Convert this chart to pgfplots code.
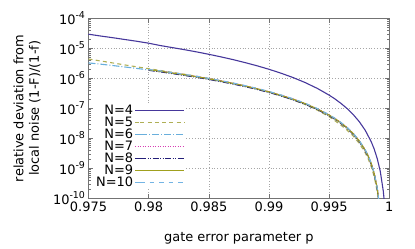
\documentclass[border=0pt]{standalone}
\usepackage{fontspec}
\setmainfont{DejaVu Sans}
\usepackage{pgfplots}
\usepackage{pgfplotstable}
\pgfplotsset{compat=1.18}
\definecolor{cA}{RGB}{70,55,155}
\definecolor{cB}{RGB}{175,175,85}
\definecolor{cC}{RGB}{105,175,220}
\definecolor{cD}{RGB}{215,60,180}
\definecolor{cE}{RGB}{35,30,120}
\definecolor{cF}{RGB}{160,160,30}
\definecolor{cG}{RGB}{115,180,228}
\newcommand\fs{\fontsize{13}{15.6}\selectfont}
\newcommand\sups[1]{\raisebox{5.5bp}{\fontsize{9.5}{10}\selectfont #1}}

\pgfplotstableread{
p y
0.975 2.95e-5
0.976 2.57e-5
0.977 2.26e-5
0.978 1.97e-5
0.979 1.72e-5
0.980 1.48e-5
0.981 1.23e-5
0.982 1.05e-5
0.983 8.97e-6
0.984 7.57e-6
0.985 6.31e-6
0.986 5.19e-6
0.987 4.21e-6
0.988 3.35e-6
0.989 2.62e-6
0.990 2.00e-6
0.991 1.48e-6
0.992 1.06e-6
0.993 7.23e-7
0.994 4.65e-7
0.995 2.75e-7
0.9955 2.03e-7
0.996 1.44e-7
0.9965 9.75e-8
0.997 6.19e-8
0.9975 3.61e-8
0.998 1.85e-8
0.9985 7.66e-9
0.99875 4.32e-9
0.999 2.09e-9
0.99925 7.91e-10
0.9995 1.75e-10
0.9996 6.81e-11
}\nfour

\pgfplotstableread{
p n5 n6 n7 n8 n9 n10
0.975 4.40e-6 3.26e-6 nan nan nan nan
0.976 3.79e-6 2.96e-6 nan nan nan nan
0.977 3.26e-6 2.67e-6 nan nan nan nan
0.978 2.80e-6 2.39e-6 nan nan nan nan
0.979 2.42e-6 2.14e-6 nan nan nan nan
0.980 2.09e-6 1.90e-6 1.88e-6 1.85e-6 1.92e-6 1.95e-6
0.981 1.82e-6 1.68e-6 1.73e-6 1.63e-6 1.71e-6 1.76e-6
0.982 1.57e-6 1.47e-6 1.51e-6 1.43e-6 1.50e-6 1.54e-6
0.983 1.36e-6 1.28e-6 1.32e-6 1.24e-6 1.31e-6 1.34e-6
0.984 1.17e-6 1.11e-6 1.14e-6 1.08e-6 1.13e-6 1.17e-6
0.985 9.92e-7 9.45e-7 9.73e-7 9.17e-7 9.64e-7 9.92e-7
0.986 8.30e-7 7.97e-7 8.21e-7 7.73e-7 8.13e-7 8.37e-7
0.987 6.88e-7 6.65e-7 6.85e-7 6.45e-7 6.78e-7 6.98e-7
0.988 5.60e-7 5.45e-7 5.61e-7 5.29e-7 5.56e-7 5.72e-7
0.989 4.48e-7 4.40e-7 4.53e-7 4.27e-7 4.49e-7 4.62e-7
0.990 3.47e-7 3.47e-7 3.57e-7 3.37e-7 3.54e-7 3.64e-7
0.991 2.60e-7 2.66e-7 2.74e-7 2.58e-7 2.71e-7 2.79e-7
0.992 1.90e-7 1.98e-7 2.04e-7 1.92e-7 2.02e-7 2.08e-7
0.993 1.34e-7 1.41e-7 1.45e-7 1.37e-7 1.44e-7 1.48e-7
0.994 8.75e-8 9.42e-8 9.70e-8 9.14e-8 9.61e-8 9.89e-8
0.995 5.24e-8 5.82e-8 5.99e-8 5.65e-8 5.94e-8 6.11e-8
0.9955 3.80e-8 4.39e-8 4.52e-8 4.26e-8 4.48e-8 4.61e-8
0.996 2.70e-8 3.18e-8 3.28e-8 3.08e-8 3.24e-8 3.34e-8
0.9965 1.86e-8 2.19e-8 2.26e-8 2.12e-8 2.23e-8 2.30e-8
0.997 1.19e-8 1.40e-8 1.44e-8 1.36e-8 1.43e-8 1.47e-8
0.9975 6.80e-9 8.09e-9 8.33e-9 7.85e-9 8.25e-9 8.49e-9
0.998 3.30e-9 3.95e-9 4.07e-9 3.83e-9 4.03e-9 4.15e-9
0.99825 2.05e-9 2.49e-9 2.56e-9 2.42e-9 2.54e-9 2.61e-9
0.9985 1.13e-9 1.40e-9 1.44e-9 1.36e-9 1.43e-9 1.47e-9
0.99875 5.20e-10 6.50e-10 6.70e-10 6.31e-10 6.63e-10 6.83e-10
0.999 1.65e-10 2.08e-10 2.14e-10 2.02e-10 2.12e-10 2.18e-10
0.99915 5.50e-11 6.90e-11 7.10e-11 6.70e-11 7.00e-11 7.20e-11
}\cluster

\begin{document}
\begin{tikzpicture}
\useasboundingbox (-88.5bp,-50.7bp) rectangle (326.5bp,198.3bp);
\begin{axis}[
  scale only axis,
  width=300.8bp, height=180bp,
  xmin=0.975, xmax=1,
  ymode=log, ymin=1e-10, ymax=1e-4,
  xtick={0.975,0.98,0.985,0.99,0.995,1},
  xticklabels={0.975,0.98,0.985,0.99,0.995,1},
  ytick={1e-10,1e-9,1e-8,1e-7,1e-6,1e-5,1e-4},
  yticklabels={10\sups{-10},10\sups{-9},10\sups{-8},10\sups{-7},10\sups{-6},10\sups{-5},10\sups{-4}},
  tick align=inside,
  major tick length=4.5bp,
  minor tick length=2.5bp,
  axis line style={black!55, line width=0.7bp},
  every tick/.style={black!55, line width=0.6bp},
  grid=major,
  major grid style={black!35, line width=0.6bp, dash pattern=on 0.8bp off 2bp},
  tick label style={font=\fs, black},
  label style={font=\fs},
  xlabel={gate error parameter p},
  xlabel style={at={(axis description cs:0.5,-0.222)}, anchor=center},
  ylabel={relative deviation from\\local noise (1-F)/(1-f)},
  ylabel style={align=center, at={(axis description cs:-0.2045,0.5)}, anchor=center},
  legend style={at={(axis description cs:0.324,0.528)}, anchor=north east,
     fill=white, draw=none, font=\fs, inner sep=1bp,
     nodes={inner sep=1.5bp, text height=9.0bp, text depth=0bp},
     row sep=0pt},
  legend cell align=right,
  legend plot pos=right,
  legend image code/.code={\path (0bp,0bp) -- (5bp,0bp); \draw[#1] (5bp,0bp) -- (49bp,0bp);},
  every axis plot/.append style={line width=1.1bp},
]
\addplot[cA] table[x=p, y=y] {\nfour};
\addlegendentry{N=4}
\addplot[cB, dash pattern=on 4bp off 3.3bp] table[x=p, y=n5] {\cluster};
\addlegendentry{N=5}
\addplot[cC, dash pattern=on 7bp off 2bp on 1bp off 2bp] table[x=p, y=n6] {\cluster};
\addlegendentry{N=6}
\addplot[cD, dash pattern=on 1.2bp off 1.3bp] table[x=p, y=n7] {\cluster};
\addlegendentry{N=7}
\addplot[cE, dash pattern=on 6bp off 1.5bp on 1bp off 1.5bp on 1bp off 1.5bp] table[x=p, y=n8] {\cluster};
\addlegendentry{N=8}
\addplot[cF] table[x=p, y=n9] {\cluster};
\addlegendentry{N=9}
\addplot[cG, dash pattern=on 4.5bp off 5bp] table[x=p, y=n10] {\cluster};
\addlegendentry{N=10}
\end{axis}
\end{tikzpicture}
\end{document}
